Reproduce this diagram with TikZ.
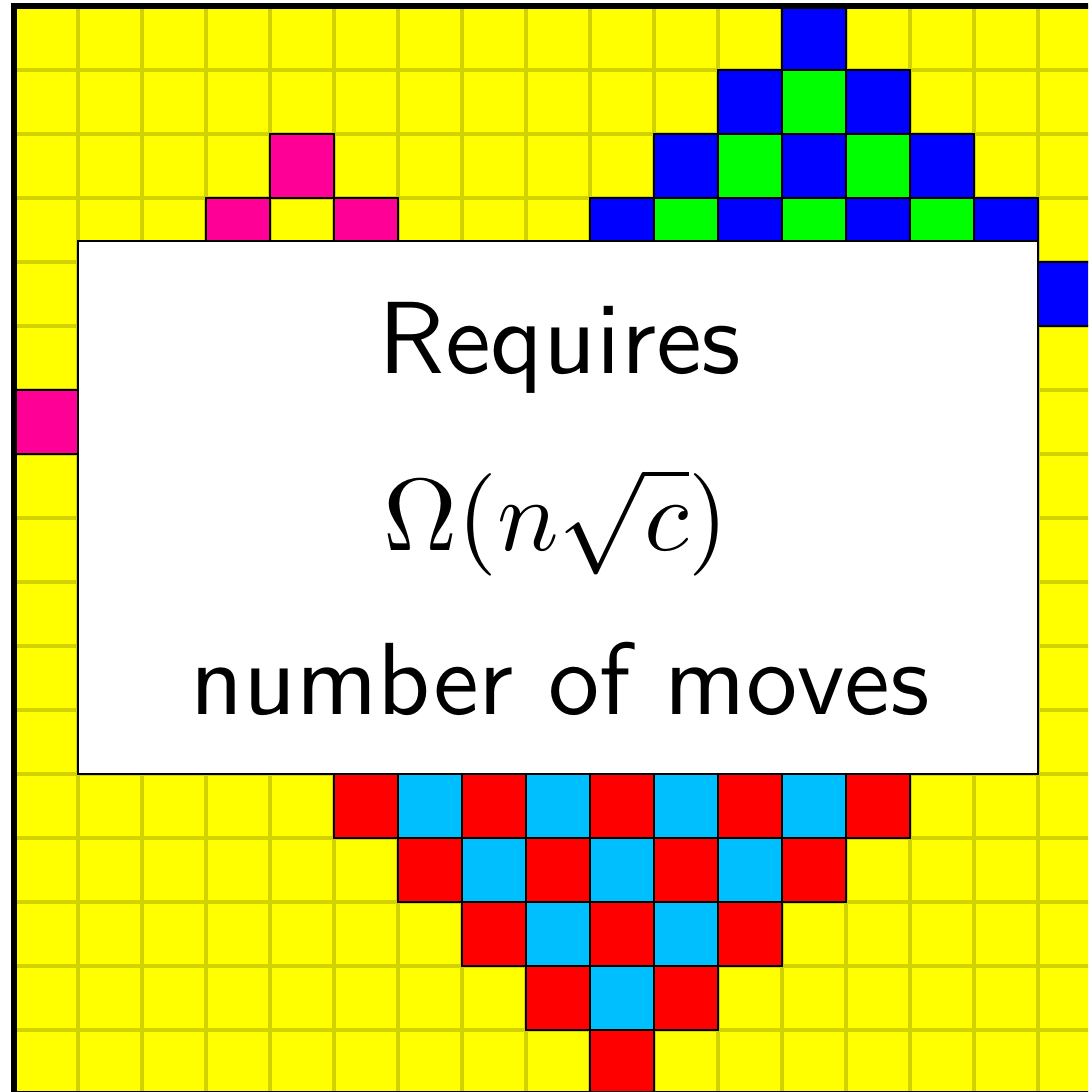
\documentclass[tikz,border=0pt]{standalone}
\usepackage{tikz}
\definecolor{gridyellow}{RGB}{255,255,0}
\definecolor{gridline}{RGB}{210,210,0}
\definecolor{pinkcell}{RGB}{255,0,150}
\definecolor{bluecell}{RGB}{0,0,255}
\definecolor{greencell}{RGB}{0,255,0}
\definecolor{redcell}{RGB}{255,0,0}
\definecolor{cyancell}{RGB}{0,191,255}
\newcommand{\bigmsg}[1]{\scalebox{4.56}{#1}}
\tikzset{
  cell/.style={draw=black,line width=1.3pt},
  gridrule/.style={draw=gridline,line width=1.35pt},
  frame/.style={draw=black,line width=2.7pt},
  msgbox/.style={draw=black,fill=white,line width=1pt,inner sep=0pt,minimum width=15cm,minimum height=8.328cm},
  msgtext/.style={font=\sffamily\fontsize{10}{12}\selectfont,anchor=base,inner sep=0pt}
}
\begin{document}
\begin{tikzpicture}
\useasboundingbox (-0.21875,0.09375) rectangle (16.78125,-16.96875);
\clip (-0.21875,0.09375) rectangle (16.78125,-16.96875);
% background grid
\fill[gridyellow] (0,0) rectangle (17,-17);
\draw[gridrule] (0,-17) grid (17,0);
% blue/green diamond (top)
\foreach \r in {0,...,4} {
  \pgfmathtruncatemacro\lo{12-\r}
  \pgfmathtruncatemacro\hi{12+\r}
  \foreach \c in {\lo,...,\hi} {
    \pgfmathtruncatemacro\parity{mod(\c+\r,2)}
    \ifnum\parity=0 \def\cellcol{bluecell}\else\def\cellcol{greencell}\fi
    \filldraw[cell,fill=\cellcol] (\c,-\r) rectangle ++(1,-1);
  }
}
% red/cyan diamond (bottom)
\foreach \k in {0,...,4} {
  \pgfmathtruncatemacro\r{16-\k}
  \pgfmathtruncatemacro\lo{9-\k}
  \pgfmathtruncatemacro\hi{9+\k}
  \foreach \c in {\lo,...,\hi} {
    \pgfmathtruncatemacro\parity{mod(\c+\r,2)}
    \ifnum\parity=1 \def\cellcol{redcell}\else\def\cellcol{cyancell}\fi
    \filldraw[cell,fill=\cellcol] (\c,-\r) rectangle ++(1,-1);
  }
}
% pink hollow diamond
\foreach \c/\r in {4/2,3/3,5/3,2/4,6/4,1/5,7/5,0/6,8/6,1/7,7/7,2/8,6/8,3/9,5/9,4/10} {
  \filldraw[cell,fill=pinkcell] (\c,-\r) rectangle ++(1,-1);
}
% outer frame
\draw[frame] (0,-17) rectangle (17,0);
% message box
\node[msgbox] (box) at (8.5,-7.836) {};
\node[msgtext] (l1) at (8.53,-5.75) {\bigmsg{Requires}};
\node[msgtext] (l2) at (8.47,-8.5) {\bigmsg{$\Omega(n\sqrt{c})$}};
\node[msgtext] (l3) at (8.53,-11.078) {\bigmsg{number of moves}};
\end{tikzpicture}
\end{document}
